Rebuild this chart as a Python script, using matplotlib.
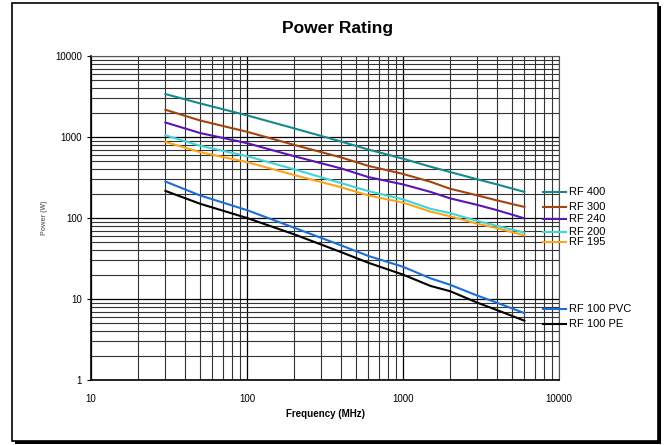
import matplotlib
matplotlib.use('Agg')
import matplotlib.pyplot as plt
from matplotlib.patches import Rectangle
from matplotlib.lines import Line2D
from matplotlib.ticker import LogLocator, FixedLocator, NullFormatter

plt.rcParams['font.family'] = ['Liberation Sans', 'DejaVu Sans']

freq = [30, 50, 100, 200, 400, 600, 1000, 1500, 2000, 3000, 4000, 6000]

rf400 = [3390, 2600, 1850, 1280, 880, 700, 540, 430, 370, 300, 260, 210]
rf300 = [2170, 1600, 1160, 800, 560, 440, 350, 280, 230, 190, 165, 137]
rf240 = [1510, 1120, 840, 580, 410, 320, 260, 210, 175, 145, 125, 99]
rf200 = [1050, 780, 580, 400, 270, 215, 170, 130, 115, 92, 80, 66]
rf195 = [870, 650, 490, 340, 240, 190, 155, 120, 105, 85, 75, 61]
rf100_pvc = [282, 190, 125, 76, 46, 34, 25, 18, 15, 11, 9, 6.7]
rf100_pe = [216, 150, 100, 63, 38, 28, 20, 14.5, 12.5, 9, 7.3, 5.4]

names = ['RF 400', 'RF 300', 'RF 240', 'RF 200', 'RF 195', 'RF 100 PVC', 'RF 100 PE']
series = [rf400, rf300, rf240, rf200, rf195, rf100_pvc, rf100_pe]
colors = ['#148a8a', '#a3440f', '#5a16b4', '#3fd6d6', '#ffa319', '#1a6fd6', '#000000']
# label heights in pixels from top (labels sit beside the plot, not in a box)
label_y = [192, 207, 219, 232, 242, 309, 324]

W, H = 667, 445
fig = plt.figure(figsize=(W / 100, H / 100), dpi=100)
ax = fig.add_axes([91 / W, 1 - 380 / H, (559 - 91) / W, (380 - 56) / H])

for vals, c in zip(series, colors):
    ax.plot(freq, vals, color=c, lw=1.5, zorder=3)

ax.set_xscale('log')
ax.set_yscale('log')
ax.set_xlim(10, 10000)
ax.set_ylim(1, 10000)

ax.xaxis.set_major_locator(FixedLocator([10, 100, 1000, 10000]))
ax.yaxis.set_major_locator(FixedLocator([1, 10, 100, 1000, 10000]))
ax.xaxis.set_minor_locator(LogLocator(base=10, subs=range(2, 10)))
ax.yaxis.set_minor_locator(LogLocator(base=10, subs=range(2, 10)))
ax.xaxis.set_minor_formatter(NullFormatter())
ax.yaxis.set_minor_formatter(NullFormatter())
ax.set_xticklabels(['10', '100', '1000', '10000'])
ax.set_yticklabels(['1', '10', '100', '1000', '10000'])

ax.grid(which='major', color='black', lw=0.9)
ax.grid(which='minor', color='#333333', lw=0.8)
ax.tick_params(which='both', labelsize=7, length=3, direction='out')
ax.tick_params(axis='x', which='minor', length=0)
ax.tick_params(axis='y', which='minor', length=0)
ax.tick_params(axis='x', which='major', length=0, pad=10)
for s in ['top', 'right']:
    ax.spines[s].set_color('#555555')
ax.spines['left'].set_linewidth(1.2)
ax.spines['bottom'].set_linewidth(1.2)

ax.set_xlabel('Frequency (MHz)', fontsize=7, fontweight='bold', labelpad=4)
ax.set_ylabel('Power (W)', fontsize=5, color='#777777', fontweight='bold', labelpad=5)

fig.text(338 / W, 1 - 28 / H, 'Power Rating', ha='center', va='center',
         fontsize=12.5, fontweight='bold')

for name, c, y in zip(names, colors, label_y):
    yf = 1 - y / H
    fig.add_artist(Line2D([543 / W, 566 / W], [yf, yf], color=c, lw=1.5))
    fig.text(569 / W, yf, name, fontsize=8, va='center', ha='left')

# chart frame with shadow
fig.add_artist(Rectangle((15 / W, 1 / H), 646 / W, 438 / H, transform=fig.transFigure,
                         facecolor='black', edgecolor='none', zorder=-2))
fig.add_artist(Rectangle((12 / W, 4 / H), 646 / W, 438 / H, transform=fig.transFigure,
                         facecolor='white', edgecolor='black', lw=1.2, zorder=-1))

fig.savefig('out.png', dpi=100)
